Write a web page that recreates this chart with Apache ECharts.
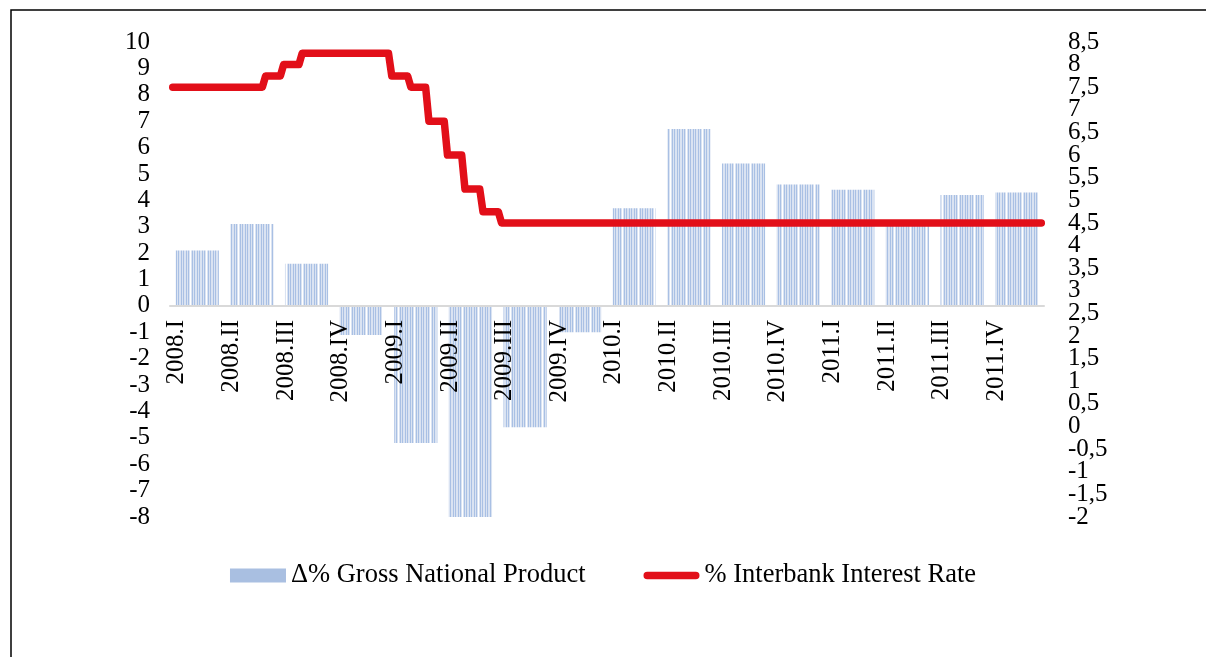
<!DOCTYPE html>
<html>
<head>
<meta charset="utf-8">
<script src="https://cdn.jsdelivr.net/npm/echarts@6/dist/echarts.min.js"></script>
<style>
  html, body { margin: 0; padding: 0; background: #fff; }
  #chart { width: 1206px; height: 657px; }
</style>
</head>
<body>
<div id="chart"></div>
<script>
// quarters on the category axis
const quarters = ['2008.I', '2008.II', '2008.III', '2008.IV', '2009.I', '2009.II', '2009.III', '2009.IV',
  '2010.I', '2010.II', '2010.III', '2010.IV', '2011.I', '2011.II', '2011.III', '2011.IV'];
// Δ% Gross National Product (left axis)
const gnpChange = [2.1, 3.1, 1.6, -1.1, -5.2, -8.0, -4.6, -1.0, 3.7, 6.7, 5.4, 4.6, 4.4, 3.1, 4.2, 4.3];
// % Interbank Interest Rate (right axis), time measured in quarters from start of 2008
const rateTime = [0.05, 1.69, 1.75, 2.02, 2.08, 2.36, 2.42, 4.00, 4.06, 4.35, 4.41, 4.68, 4.74,
  5.02, 5.08, 5.34, 5.40, 5.67, 5.73, 6.01, 6.07, 15.95];
const rateValue = [7.5, 7.5, 7.75, 7.75, 8.0, 8.0, 8.25, 8.25, 7.75, 7.75, 7.5, 7.5, 6.75,
  6.75, 6.0, 6.0, 5.25, 5.25, 4.75, 4.75, 4.5, 4.5];
// axis ranges
const leftRange = [-8, 10];
const rightRange = [-2, 8.5];

const names = ['Δ% Gross National Product', '% Interbank Interest Rate'];
const serif = '"Liberation Serif", "DejaVu Serif", serif';
const red = '#e20f19';
const comma = v => String(v).replace('.', ',');

// striped fill like the original bars
function stripes() {
  const c = document.createElement('canvas');
  c.width = 16; c.height = 4;
  const g = c.getContext('2d');
  g.fillStyle = '#dae3f2';
  g.fillRect(0, 0, 16, 4);
  g.fillStyle = '#a9c0e4';
  [0, 2, 5, 7, 10, 12].forEach(x => g.fillRect(x, 0, 1, 4));
  g.fillStyle = '#ffffff';
  g.fillRect(14, 0, 1, 4);
  return c;
}

// grid geometry: the category axis sits on the zero of the left axis
const gridTop = 42, gridHeight = 475;
const zeroOffset = -(gridHeight * (0 - leftRange[0]) / (leftRange[1] - leftRange[0]));

const rightAxisBase = {
  type: 'value',
  position: 'right',
  min: rightRange[0],
  max: rightRange[1],
  interval: 0.5,
  splitLine: { show: false },
  axisLine: { show: false },
  axisTick: { show: false }
};
const rightLabel = { margin: 24, fontFamily: serif, fontSize: 25, color: '#000' };

const chart = echarts.init(document.getElementById('chart'));
chart.setOption({
  animation: false,
  backgroundColor: '#fff',
  textStyle: { fontFamily: serif },
  graphic: [{
    type: 'rect',
    shape: { x: 11, y: 10, width: 1300, height: 700 },
    style: { fill: 'none', stroke: '#000', lineWidth: 1.5 }
  }],
  grid: { left: 170, right: 162, top: gridTop, height: gridHeight },
  legend: {
    bottom: 63,
    left: 'center',
    itemGap: 58,
    itemWidth: 56,
    itemHeight: 14,
    textStyle: { fontFamily: serif, fontSize: 26.5, color: '#000' },
    data: [
      { name: names[0], icon: 'rect', itemStyle: { color: '#a9bfe1' } },
      { name: names[1], icon: 'path://M4,0 H56 A4,4 0 0 1 56,8 H4 A4,4 0 0 1 4,0 Z', itemStyle: { color: red } }
    ]
  },
  xAxis: [{
    type: 'category',
    data: quarters,
    z: 10,
    offset: zeroOffset,
    axisLine: { onZero: false, lineStyle: { color: '#d9d9d9', width: 2 } },
    axisTick: { show: false },
    axisLabel: {
      rotate: 90,
      interval: 0,
      margin: 14,
      verticalAlign: 'bottom',
      padding: [0, 0, 8, 0],
      fontFamily: serif,
      fontSize: 25,
      color: '#000'
    }
  }, {
    type: 'value',
    min: 0,
    max: 16,
    show: false
  }],
  yAxis: [{
    type: 'value',
    min: leftRange[0],
    max: leftRange[1],
    interval: 1,
    splitLine: { show: false },
    axisLine: { show: false },
    axisTick: { show: false },
    axisLabel: {
      margin: 20, fontFamily: serif, fontSize: 25, color: '#000',
      showMinLabel: true, showMaxLabel: true
    }
  }, Object.assign({}, rightAxisBase, {
    // inner labels of the right axis
    axisLabel: Object.assign({}, rightLabel, {
      showMinLabel: false, showMaxLabel: false, formatter: comma
    })
  }), Object.assign({}, rightAxisBase, {
    // end labels of the right axis (kept apart so the tight spacing does not hide them)
    axisLabel: Object.assign({}, rightLabel, {
      showMinLabel: true, showMaxLabel: true,
      formatter: v => (v === rightRange[0] || v === rightRange[1]) ? comma(v) : ''
    })
  })],
  series: [{
    name: names[0],
    type: 'bar',
    data: gnpChange,
    barCategoryGap: '21%',
    itemStyle: { color: { image: stripes(), repeat: 'repeat' } }
  }, {
    name: names[1],
    type: 'line',
    xAxisIndex: 1,
    yAxisIndex: 1,
    symbol: 'none',
    data: rateTime.map((t, i) => [t, rateValue[i]]),
    lineStyle: { color: red, width: 7.5, cap: 'round', join: 'round' },
    itemStyle: { color: red }
  }]
});
</script>
</body>
</html>
